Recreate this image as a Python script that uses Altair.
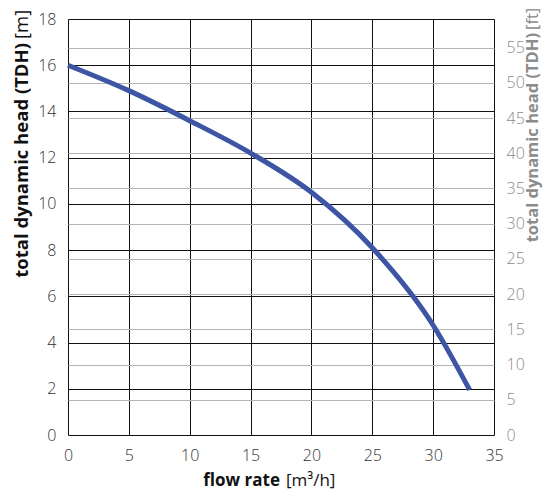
import altair as alt
import pandas as pd

# Pump curve: flow rate [m3/h] vs total dynamic head [m]
flow = [0, 5, 10, 15, 20, 25, 30, 33]
head = [16.0, 14.9, 13.6, 12.2, 10.5, 8.1, 4.75, 1.95]

x_ticks = [0, 5, 10, 15, 20, 25, 30, 35]
m_ticks = [0, 2, 4, 6, 8, 10, 12, 14, 16, 18]
ft_ticks = [0, 5, 10, 15, 20, 25, 30, 35, 40, 45, 50, 55]
ft_max = 18 / 0.3048

left_title_bold = ["total dynamic head (TDH)"]
left_title_unit = ["[m]"]
right_title_bold = ["total dynamic head (TDH)"]
right_title_unit = ["[ft]"]
x_title_bold = ["flow rate"]
x_title_unit = ["[m³/h]"]

FONT = "Open Sans, sans-serif"
BLUE = "#3d55a4"
GRAY = "#8c8c8c"

curve = pd.DataFrame({"q": flow, "h": head})
ftdf = pd.DataFrame({"ft": ft_ticks})

ft_layer = alt.Chart(ftdf).mark_rule(opacity=0).encode(
    y=alt.Y("ft:Q", scale=alt.Scale(domain=[0, ft_max], nice=False, zero=True),
            axis=alt.Axis(orient="right", values=ft_ticks, grid=True, gridColor="#b4b4b4",
                          gridWidth=1.2, ticks=False, domain=False, labelColor=GRAY,
                          labelFont=FONT, labelFontSize=16, labelFontWeight=300,
                          labelPadding=12, title=None))
)

line = alt.Chart(curve).mark_line(color=BLUE, strokeWidth=5, interpolate="monotone").encode(
    x=alt.X("q:Q", scale=alt.Scale(domain=[0, 35], nice=False),
            axis=alt.Axis(values=x_ticks, grid=True, gridColor="#111", gridWidth=1,
                          ticks=False, domain=False, labelColor="#333", labelFont=FONT,
                          labelFontSize=16, labelFontWeight=300, labelPadding=12,
                          title=None, labelFlush=False)),
    y=alt.Y("h:Q", scale=alt.Scale(domain=[0, 18], nice=False),
            axis=alt.Axis(orient="left", values=m_ticks, grid=True, gridColor="#111", gridWidth=1,
                          ticks=False, domain=False, labelColor="#333", labelFont=FONT,
                          labelFontSize=16, labelFontWeight=300, labelPadding=12, title=None)),
)


def txt(data, x, y, angle=0, align="left", bold=True, color="#111", size=17, baseline="middle"):
    return alt.Chart(pd.DataFrame({"t": data})).mark_text(
        font=FONT, fontSize=size, fontWeight="bold" if bold else "normal", color=color,
        angle=angle, align=align, baseline=baseline
    ).encode(text="t:N", x=alt.value(x), y=alt.value(y))


titles = [
    txt(left_title_bold, -46, 24, angle=270, align="right", bold=True, size=18.5),
    txt(left_title_unit, -46, 20, angle=270, align="left", bold=False, size=18.5),
    txt(right_title_bold, 465, 14, angle=270, align="right", bold=True, color=GRAY, size=16.5),
    txt(right_title_unit, 465, 11, angle=270, align="left", bold=False, color=GRAY, size=16.5),
    txt(x_title_bold, 212, 467, align="right", bold=True, baseline="alphabetic"),
    txt(x_title_unit, 218, 467, align="left", bold=False, baseline="alphabetic"),
]

main = alt.layer(ft_layer, line).resolve_scale(y="independent")
chart = alt.layer(main, *titles).properties(
    width=426, height=416,
    padding={"left": 60, "top": 11, "right": 51, "bottom": 55},
    autosize=alt.AutoSizeParams(type="none"),
).configure_view(stroke="black", strokeWidth=2.5).configure(background="white")

chart.save("out.html", embed_options={"renderer": "svg", "actions": False})
